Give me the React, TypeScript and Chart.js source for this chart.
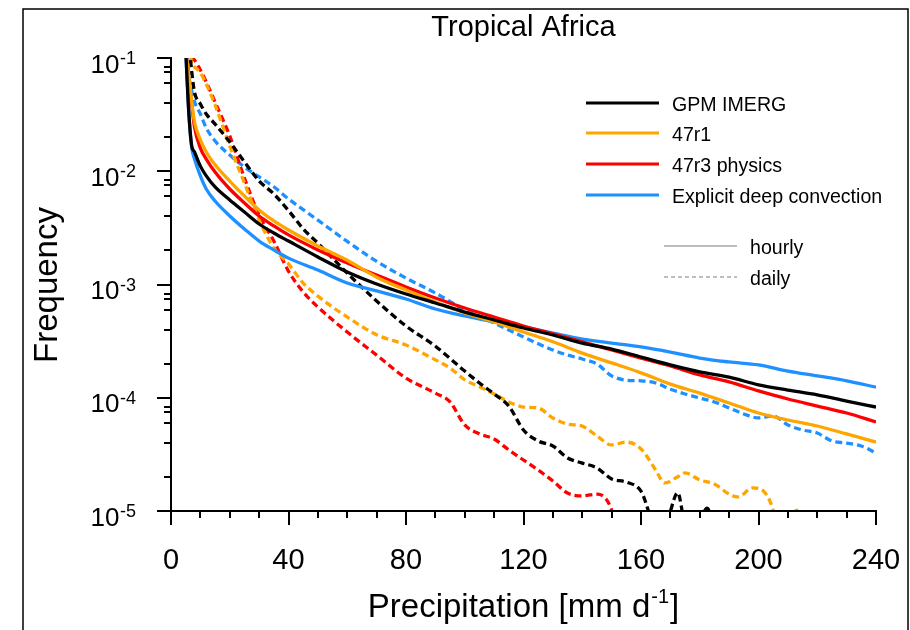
import React, { useEffect, useRef } from "react";
import { Chart, registerables } from "chart.js";

Chart.register(...registerables);

type Pt = [number, number];

const CHART_TITLE = "Tropical Africa";
const X_TITLE = "Precipitation [mm d";
const X_TITLE_SUP = "-1";
const X_TITLE_END = "]";
const Y_TITLE = "Frequency";
const X_MIN = 0;
const X_MAX = 240;
const X_MAJOR_TICKS = [0, 40, 80, 120, 160, 200, 240];
const X_MINOR_TICKS = [10, 20, 30, 50, 60, 70, 90, 100, 110, 130, 140, 150, 170, 180, 190, 210, 220, 230];
const Y_EXPONENTS = [-5, -4, -3, -2, -1];
const Y_MINOR_FACTORS = [2, 4, 6, 7.5, 8.3];
const MODEL_NAMES = ["GPM IMERG", "47r1", "47r3 physics", "Explicit deep convection"];
const MODEL_COLORS = ["#000000", "#ffa500", "#ff0000", "#1e90ff"];
const RES_NAMES = ["hourly", "daily"];

// hourly (solid)
const gpmHourly: Pt[] = [
  [5, 0.12], [6, 0.035], [7, 0.0171], [8, 0.0148], [10, 0.0111], [12, 0.0091], [15, 0.00726],
  [20, 0.00557], [25, 0.00436], [30, 0.00342], [35, 0.00285], [40, 0.00242], [50, 0.00175],
  [60, 0.00129], [70, 0.00101], [80, 0.000824], [90, 0.000687], [100, 0.000571], [110, 0.000486],
  [120, 0.000413], [130, 0.000358], [140, 0.000304], [150, 0.000269], [160, 0.000229], [170, 0.000195],
  [180, 0.000169], [190, 0.000152], [200, 0.00013], [210, 0.000117], [220, 0.000106], [230, 0.0000935],
  [240, 0.0000828],
];
const r1Hourly: Pt[] = [
  [5, 0.12], [6, 0.07], [7, 0.042], [8, 0.0272], [10, 0.0189], [12, 0.0148], [15, 0.0114],
  [20, 0.0082], [25, 0.00604], [30, 0.00455], [35, 0.00364], [40, 0.00303], [50, 0.00219],
  [60, 0.00164], [70, 0.00116], [80, 0.000894], [90, 0.0007], [100, 0.00056], [110, 0.000467],
  [120, 0.000381], [130, 0.000312], [140, 0.000248], [150, 0.000203], [160, 0.000166], [170, 0.000132],
  [180, 0.00011], [190, 0.0000899], [200, 0.0000733], [210, 0.0000636], [220, 0.0000563], [230, 0.0000479],
  [240, 0.0000406],
];
const r3Hourly: Pt[] = [
  [5, 0.12], [6, 0.065], [7, 0.04], [8, 0.0246], [10, 0.016], [12, 0.0128], [15, 0.00984],
  [20, 0.00697], [25, 0.00525], [30, 0.00403], [35, 0.00329], [40, 0.00274], [50, 0.00202],
  [60, 0.00155], [70, 0.00121], [80, 0.000951], [90, 0.00076], [100, 0.00062], [110, 0.000516],
  [120, 0.00043], [130, 0.000366], [140, 0.000311], [150, 0.000264], [160, 0.000224], [170, 0.000191],
  [180, 0.000159], [190, 0.000138], [200, 0.000115], [210, 0.0000975], [220, 0.0000845], [230, 0.0000733],
  [240, 0.0000611],
];
const explicitHourly: Pt[] = [
  [5, 0.12], [6, 0.035], [7, 0.0165], [8, 0.0128], [10, 0.0091], [12, 0.00697], [15, 0.00546],
  [20, 0.00403], [25, 0.00309], [30, 0.00242], [35, 0.00202], [40, 0.00171], [50, 0.00134],
  [60, 0.00103], [70, 0.000877], [80, 0.000745], [90, 0.000608], [100, 0.000527], [110, 0.000467],
  [120, 0.000422], [130, 0.000373], [140, 0.00033], [150, 0.000304], [160, 0.000281], [170, 0.000253],
  [180, 0.000224], [190, 0.000207], [200, 0.000195], [210, 0.000172], [220, 0.000156], [230, 0.000141],
  [240, 0.000124],
];

// daily (dashed)
const gpmDaily: Pt[] = [
  [6, 0.15], [7, 0.078], [8, 0.05], [10, 0.0393], [12, 0.032], [15, 0.0261], [20, 0.0181],
  [25, 0.0121], [30, 0.0082], [35, 0.0063], [40, 0.0045], [45, 0.0031], [50, 0.00232],
  [60, 0.00126], [70, 0.000715], [80, 0.00043], [90, 0.000285], [100, 0.000172], [105, 0.000135],
  [110, 0.000108], [115, 0.0000843], [120, 0.0000519], [125, 0.0000415], [130, 0.0000375],
  [135, 0.0000294], [140, 0.0000265], [145, 0.000024], [150, 0.0000192], [155, 0.000018],
  [160, 0.000015], [165, 0.0000075], [169, 0.0000085], [172.5, 0.0000145], [175.5, 0.0000068],
  [179, 0.000007], [182.5, 0.0000106], [185, 0.000007],
];
const r1Daily: Pt[] = [
  [6.5, 0.13], [7, 0.09], [8, 0.083], [10, 0.0738], [12, 0.0589], [15, 0.0385], [20, 0.0167],
  [25, 0.00787], [30, 0.00372], [35, 0.0021], [40, 0.00152], [45, 0.00103], [50, 0.00079],
  [60, 0.000516], [70, 0.00036], [80, 0.000292], [90, 0.000216], [95, 0.000183], [100, 0.000144],
  [105, 0.000125], [110, 0.000108], [115, 0.0000918], [120, 0.0000828], [125, 0.0000811],
  [130, 0.0000663], [135, 0.0000586], [140, 0.0000562], [145, 0.0000459], [150, 0.0000383],
  [155, 0.0000406], [160, 0.0000353], [165, 0.000023], [168, 0.0000177], [173, 0.0000204],
  [175, 0.0000217], [180, 0.0000188], [185, 0.0000173], [190, 0.0000141], [193, 0.0000133],
  [198, 0.000016], [202, 0.0000147], [205, 0.0000102], [207, 0.000006], [210, 0.000007],
  [213, 0.0000102], [216, 0.000007],
];
const r3Daily: Pt[] = [
  [7, 0.13], [7.5, 0.1], [8, 0.096], [10, 0.0783], [12, 0.0614], [15, 0.0408], [20, 0.0205],
  [25, 0.00871], [30, 0.0041], [35, 0.00242], [40, 0.00131], [45, 0.000859], [50, 0.000633],
  [60, 0.00038], [70, 0.000238], [80, 0.000149], [90, 0.00011], [95, 0.0000918], [100, 0.0000575],
  [105, 0.0000479], [110, 0.0000432], [115, 0.0000346], [120, 0.0000282], [125, 0.000023],
  [130, 0.0000184], [135, 0.0000144], [140, 0.0000136], [145, 0.0000141], [150, 0.0000102],
  [152, 0.000006],
];
const explicitDaily: Pt[] = [
  [5.5, 0.13], [6, 0.075], [7, 0.052], [8, 0.041], [10, 0.032], [12, 0.0241], [15, 0.0185],
  [20, 0.0139], [25, 0.0109], [30, 0.0089], [35, 0.0073], [40, 0.0057], [50, 0.0037],
  [60, 0.0024], [70, 0.0016], [80, 0.00114], [90, 0.000841], [100, 0.000596], [110, 0.000457],
  [120, 0.000344], [130, 0.000264], [135, 0.000238], [140, 0.00022], [145, 0.000199], [150, 0.000156],
  [155, 0.000143], [160, 0.000141], [165, 0.000135], [170, 0.000119], [175, 0.000108], [180, 0.0000995],
  [185, 0.0000918], [190, 0.0000813], [195, 0.0000719], [200, 0.0000663], [205, 0.000069],
  [210, 0.0000575], [215, 0.0000519], [220, 0.0000488], [225, 0.0000415], [230, 0.0000398],
  [235, 0.0000375], [240, 0.0000325],
];

const HOURLY_SERIES = [gpmHourly, r1Hourly, r3Hourly, explicitHourly];
const DAILY_SERIES = [gpmDaily, r1Daily, r3Daily, explicitDaily];

const FONT = '"Liberation Sans", Arial, Helvetica, sans-serif';

const decorPlugin = {
  id: "decor",
  afterDraw(chart: any) {
    const ctx: CanvasRenderingContext2D = chart.ctx;
    const xs = chart.scales.x;
    const ys = chart.scales.y;
    const { left, right, top, bottom } = chart.chartArea;
    ctx.save();
    ctx.fillStyle = "#000";
    ctx.strokeStyle = "#000";

    // outer frame
    ctx.lineWidth = 1.5;
    ctx.beginPath();
    ctx.moveTo(23, 640);
    ctx.lineTo(23, 9);
    ctx.lineTo(908, 9);
    ctx.lineTo(908, 640);
    ctx.stroke();

    // axes
    ctx.lineWidth = 2;
    ctx.lineCap = "square";
    ctx.beginPath();
    ctx.moveTo(left, top);
    ctx.lineTo(left, bottom);
    ctx.lineTo(right, bottom);
    ctx.stroke();
    ctx.lineCap = "butt";

    // x ticks
    const xTick = (v: number, len: number) => {
      const px = Math.round(xs.getPixelForValue(v));
      ctx.beginPath();
      ctx.moveTo(px, bottom);
      ctx.lineTo(px, bottom + len);
      ctx.stroke();
    };
    X_MAJOR_TICKS.forEach((v) => xTick(v, 14));
    X_MINOR_TICKS.forEach((v) => xTick(v, 7));

    // y ticks
    const yTick = (v: number, len: number) => {
      const py = Math.round(ys.getPixelForValue(v));
      ctx.beginPath();
      ctx.moveTo(left, py);
      ctx.lineTo(left - len, py);
      ctx.stroke();
    };
    Y_EXPONENTS.forEach((e, i) => {
      yTick(Math.pow(10, e), 14);
      if (i < Y_EXPONENTS.length - 1) {
        Y_MINOR_FACTORS.forEach((f) => yTick(f * Math.pow(10, e), 7));
      }
    });

    // x tick labels
    ctx.font = `29px ${FONT}`;
    ctx.textAlign = "center";
    ctx.textBaseline = "alphabetic";
    X_MAJOR_TICKS.forEach((v) => {
      ctx.fillText(String(v), xs.getPixelForValue(v), 569);
    });

    // y tick labels (10^e)
    const labelRight = 136;
    Y_EXPONENTS.forEach((e) => {
      const py = ys.getPixelForValue(Math.pow(10, e));
      const sup = String(e);
      ctx.font = `18px ${FONT}`;
      ctx.textAlign = "right";
      const sw = ctx.measureText(sup).width;
      ctx.fillText(sup, labelRight, py + 6);
      ctx.font = `26px ${FONT}`;
      ctx.fillText("10", labelRight - sw - 0.5, py + 14.5);
    });

    // title
    ctx.textAlign = "center";
    ctx.font = `29px ${FONT}`;
    ctx.fillText(CHART_TITLE, (left + right) / 2, 36);

    // x title with superscript
    ctx.textAlign = "left";
    ctx.font = `33px ${FONT}`;
    const w1 = ctx.measureText(X_TITLE).width;
    const w3 = ctx.measureText(X_TITLE_END).width;
    ctx.font = `20px ${FONT}`;
    const w2 = ctx.measureText(X_TITLE_SUP).width;
    const total = w1 + w2 + w3 + 2;
    let tx = (left + right) / 2 - total / 2;
    ctx.font = `33px ${FONT}`;
    ctx.fillText(X_TITLE, tx, 617);
    tx += w1 + 1;
    ctx.font = `20px ${FONT}`;
    ctx.fillText(X_TITLE_SUP, tx, 603);
    tx += w2 + 1;
    ctx.font = `33px ${FONT}`;
    ctx.fillText(X_TITLE_END, tx, 617);

    // y title
    ctx.save();
    ctx.translate(57, 285);
    ctx.rotate(-Math.PI / 2);
    ctx.textAlign = "center";
    ctx.font = `33px ${FONT}`;
    ctx.fillText(Y_TITLE, 0, 0);
    ctx.restore();

    // legend: models
    ctx.font = `19.6px ${FONT}`;
    ctx.textAlign = "left";
    const legY = [103, 133, 164, 195];
    MODEL_NAMES.forEach((name, i) => {
      ctx.strokeStyle = MODEL_COLORS[i];
      ctx.lineWidth = 3;
      ctx.setLineDash([]);
      ctx.beginPath();
      ctx.moveTo(586, legY[i]);
      ctx.lineTo(659, legY[i]);
      ctx.stroke();
      ctx.fillStyle = "#000";
      ctx.fillText(name, 672, legY[i] + 8);
    });
    // legend: resolutions
    const resY = [246, 277];
    RES_NAMES.forEach((name, i) => {
      ctx.strokeStyle = "#bdbdbd";
      ctx.lineWidth = 2;
      ctx.setLineDash(i === 0 ? [] : [4, 3]);
      ctx.beginPath();
      ctx.moveTo(664, resY[i]);
      ctx.lineTo(737, resY[i]);
      ctx.stroke();
      ctx.setLineDash([]);
      ctx.fillStyle = "#000";
      ctx.fillText(name, 750, resY[i] + 8);
    });
    ctx.restore();
  },
};

export default function App() {
  const canvasRef = useRef<HTMLCanvasElement | null>(null);

  useEffect(() => {
    const canvas = canvasRef.current;
    if (!canvas) return;
    const toXY = (d: Pt[]) => d.map(([x, y]) => ({ x, y }));
    const datasets: any[] = [];
    HOURLY_SERIES.forEach((d, i) => {
      datasets.push({
        label: `${MODEL_NAMES[i]} ${RES_NAMES[0]}`,
        data: toXY(d),
        borderColor: MODEL_COLORS[i],
        backgroundColor: MODEL_COLORS[i],
        borderWidth: 3.3,
        pointRadius: 0,
        fill: false,
        cubicInterpolationMode: "monotone",
        clip: 0,
      });
    });
    DAILY_SERIES.forEach((d, i) => {
      datasets.push({
        label: `${MODEL_NAMES[i]} ${RES_NAMES[1]}`,
        data: toXY(d),
        borderColor: MODEL_COLORS[i],
        backgroundColor: MODEL_COLORS[i],
        borderWidth: 3.3,
        borderDash: [7, 4],
        pointRadius: 0,
        fill: false,
        cubicInterpolationMode: "monotone",
        clip: 0,
      });
    });

    const chart = new Chart(canvas, {
      type: "line",
      data: { datasets },
      options: {
        animation: false,
        responsive: false,
        devicePixelRatio: 1,
        events: [],
        layout: { padding: { left: 171, right: 34, top: 58, bottom: 119 } },
        plugins: {
          legend: { display: false },
          tooltip: { enabled: false },
          title: { display: false },
        },
        scales: {
          x: { type: "linear", min: X_MIN, max: X_MAX, display: false },
          y: { type: "logarithmic", min: 1e-5, max: 1e-1, display: false },
        },
      },
      plugins: [decorPlugin],
    } as any);
    return () => chart.destroy();
  }, []);

  return (
    <div style={{ position: "absolute", left: 0, top: 0, width: 910, height: 630, background: "#fff" }}>
      <canvas ref={canvasRef} width={910} height={630} style={{ display: "block", width: 910, height: 630 }} />
    </div>
  );
}
